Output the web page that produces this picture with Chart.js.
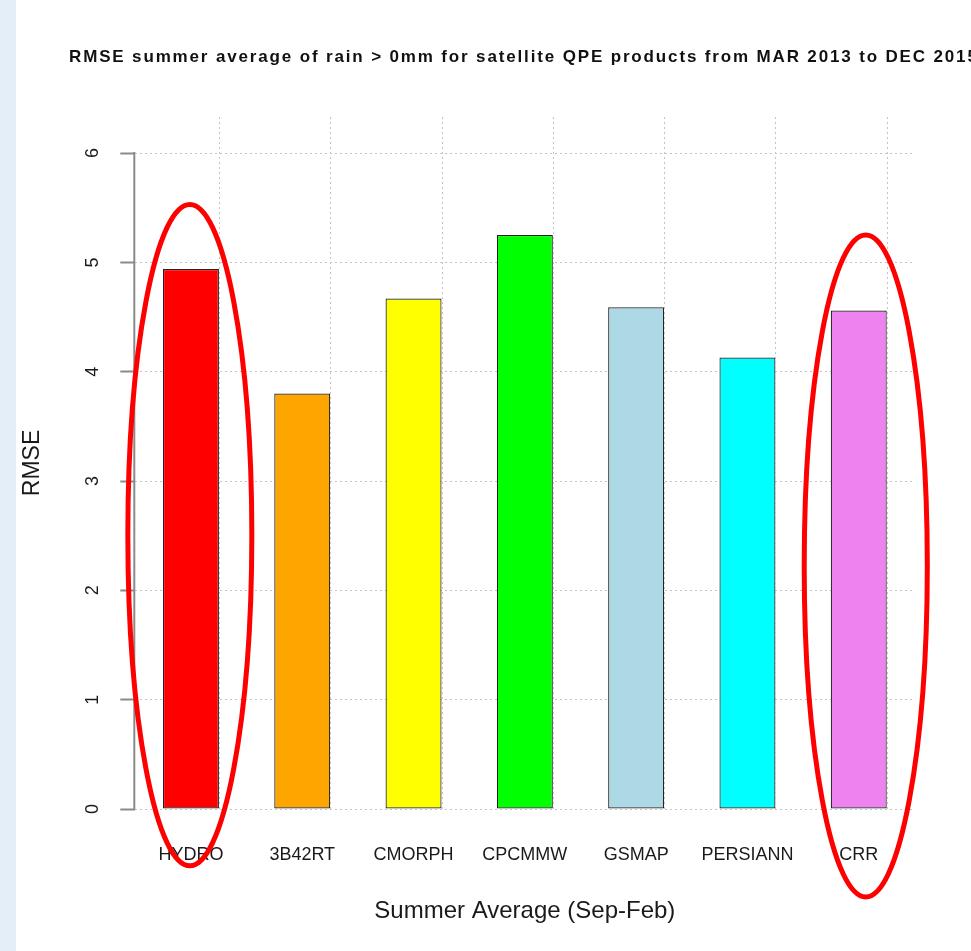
<!DOCTYPE html>
<html><head><meta charset="utf-8">
<script src="https://cdn.jsdelivr.net/npm/chart.js@4.4.0/dist/chart.umd.min.js"></script>
<style>html,body{margin:0;padding:0;background:#fff;overflow:hidden}canvas{display:block}</style>
</head><body>
<canvas id="c" width="971" height="951"></canvas>
<script>
// ---- data ----
const categories = ['HYDRO', '3B42RT', 'CMORPH', 'CPCMMW', 'GSMAP', 'PERSIANN', 'CRR'];
const rmseValues = [4.94, 3.80, 4.67, 5.25, 4.59, 4.13, 4.56];
const barColors = ['#FF0000', '#FFA500', '#FFFF00', '#00FF00', '#ADD8E6', '#00FFFF', '#EE82EE'];
const yTickValues = [0, 1, 2, 3, 4, 5, 6];
const chartTitle = 'RMSE summer average of rain > 0mm for satellite QPE products from MAR 2013 to DEC 2015';
const xAxisTitle = 'Summer Average (Sep-Feb)';
const yAxisTitle = 'RMSE';
// highlighted categories (red ellipses), in category / value units
const highlightIndex = [0, 6];
const highlightShift = [-0.01, 0.063];
const highlightHalfWidth = [0.557, 0.553];
const highlightTop = [5.53, 5.25];
const highlightBottom = [-0.52, -0.805];

const FONT = '"Liberation Sans", Arial, Helvetica, sans-serif';
const GRID_COLOR = '#c4c4c4';
const GRID_DASH = [2, 3];

const decor = {
  id: 'decor',
  beforeDraw(chart) {
    const ctx = chart.ctx;
    ctx.save();
    ctx.fillStyle = '#ffffff';
    ctx.fillRect(0, 0, chart.width, chart.height);
    ctx.fillStyle = '#e4eef9';
    ctx.fillRect(0, 0, 16, chart.height);
    ctx.restore();
  },
  afterDatasetsDraw(chart) {
    const ctx = chart.ctx, area = chart.chartArea;
    const meta = chart.getDatasetMeta(0);
    ctx.save();
    ctx.strokeStyle = GRID_COLOR;
    ctx.lineWidth = 1;
    ctx.setLineDash(GRID_DASH);
    meta.data.forEach(el => {
      const p = el.getProps(['x', 'width'], true);
      const x = Math.round(p.x + p.width / 2) + 0.5;
      ctx.beginPath();
      ctx.moveTo(x, area.top);
      ctx.lineTo(x, area.bottom);
      ctx.stroke();
    });
    ctx.restore();
  },
  afterDraw(chart) {
    const ctx = chart.ctx, area = chart.chartArea;
    const xs = chart.scales.x, ys = chart.scales.y;
    ctx.save();
    // y axis line over the tick range
    ctx.strokeStyle = '#8a8a8a';
    ctx.lineWidth = 2;
    ctx.beginPath();
    ctx.moveTo(area.left - 1, ys.getPixelForValue(yTickValues[0]) + 1);
    ctx.lineTo(area.left - 1, ys.getPixelForValue(yTickValues[yTickValues.length - 1]) - 1);
    ctx.stroke();
    // title
    ctx.font = 'bold 17px ' + FONT;
    ctx.fillStyle = '#111';
    ctx.textBaseline = 'alphabetic';
    ctx.textAlign = 'left';
    const w = ctx.measureText(chartTitle).width;
    const target = 908;
    if ('letterSpacing' in ctx) {
      ctx.letterSpacing = ((target - w) / (chartTitle.length - 1)).toFixed(2) + 'px';
      ctx.fillText(chartTitle, 69, 62);
    } else {
      ctx.translate(69, 62);
      ctx.scale(target / w, 1);
      ctx.fillText(chartTitle, 0, 0);
    }
    ctx.restore();
    // ellipses
    ctx.save();
    const catW = xs.getPixelForValue(1) - xs.getPixelForValue(0);
    ctx.strokeStyle = '#FF0000';
    ctx.lineWidth = 5;
    highlightIndex.forEach((idx, k) => {
      const cx = xs.getPixelForValue(idx) + highlightShift[k] * catW;
      const yt = ys.getPixelForValue(highlightTop[k]);
      const yb = ys.getPixelForValue(highlightBottom[k]);
      ctx.beginPath();
      ctx.ellipse(cx, (yt + yb) / 2, highlightHalfWidth[k] * catW, (yb - yt) / 2, 0, 0, Math.PI * 2);
      ctx.stroke();
    });
    ctx.restore();
  }
};

new Chart(document.getElementById('c'), {
  type: 'bar',
  data: {
    labels: categories,
    datasets: [{
      data: rmseValues,
      backgroundColor: barColors,
      borderColor: '#222',
      borderWidth: 1.2,
      borderSkipped: false,
      categoryPercentage: 1,
      barPercentage: 0.503
    }]
  },
  options: {
    responsive: false,
    animation: false,
    devicePixelRatio: 1,
    layout: { padding: { top: 117, right: 56.6, bottom: 0, left: 0 } },
    plugins: { legend: { display: false }, tooltip: { enabled: false }, title: { display: false } },
    scales: {
      x: {
        type: 'category',
        offset: true,
        afterFit: s => { s.height = 142; },
        grid: { display: false, drawTicks: false },
        border: { display: false },
        ticks: { font: { family: FONT, size: 18 }, color: '#1a1a1a', padding: 35, maxRotation: 0, autoSkip: false },
        title: { display: true, text: xAxisTitle, font: { family: FONT, size: 24 }, color: '#1a1a1a', padding: { top: 0, bottom: 25.6 } }
      },
      y: {
        min: 0,
        max: 6.33,
        z: 1,
        afterBuildTicks: s => { s.ticks = yTickValues.map(v => ({ value: v })); },
        afterFit: s => { s.width = 135.3; },
        grid: { color: GRID_COLOR, lineWidth: 1, drawTicks: true, tickLength: 15, tickColor: '#8a8a8a', tickWidth: 2 },
        border: { display: false, dash: GRID_DASH },
        ticks: { font: { family: FONT, size: 18 }, color: '#1a1a1a', minRotation: 90, maxRotation: 90, crossAlign: 'center', padding: 22 },
        title: { display: true, text: yAxisTitle, font: { family: FONT, size: 23 }, color: '#1a1a1a', padding: { top: 19, bottom: 0 } }
      }
    }
  },
  plugins: [decor]
});
</script>
</body></html>
